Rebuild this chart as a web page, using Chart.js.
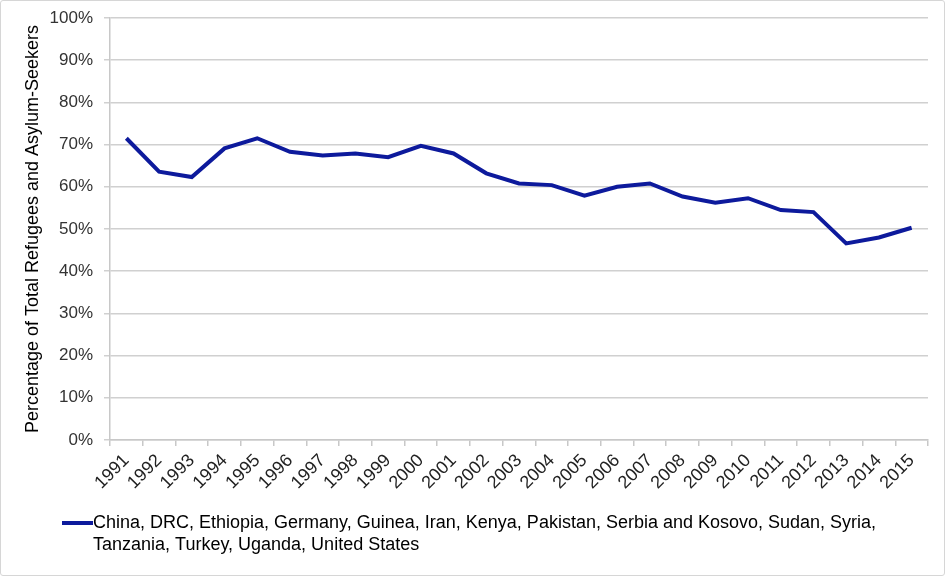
<!DOCTYPE html>
<html>
<head>
<meta charset="utf-8">
<script src="https://cdn.jsdelivr.net/npm/chart.js@4"></script>
<style>
  html, body { margin: 0; padding: 0; background: #fff; }
  #frame { width: 945px; height: 576px; box-sizing: border-box; border: 1px solid #d6d6d6; border-radius: 3px; }
  canvas { display: block; }
</style>
</head>
<body>
<div id="frame"><canvas id="chart" width="943" height="574"></canvas></div>
<script>
// ----- DATA -----
const years = ['1991','1992','1993','1994','1995','1996','1997','1998','1999','2000','2001','2002','2003',
  '2004','2005','2006','2007','2008','2009','2010','2011','2012','2013','2014','2015']
const shares = [71.5, 63.6, 62.3, 69.1, 71.5, 68.3, 67.4, 67.9, 67.0, 69.7, 67.9, 63.2, 60.8,
  60.4, 57.9, 60.0, 60.8, 57.7, 56.2, 57.3, 54.5, 54.0, 46.6, 48.0, 50.3]
const seriesLabel = ['China, DRC, Ethiopia, Germany, Guinea, Iran, Kenya, Pakistan, Serbia and Kosovo, Sudan, Syria,',
  'Tanzania, Turkey, Uganda, United States']
const yTitle = 'Percentage of Total Refugees and Asylum-Seekers'

const lineColor = '#0d1a9c'
const font = 'Liberation Sans, Arial, sans-serif'

// legend drawn by hand so the label can wrap onto two lines
const wrapLegend = {
  id: 'wrapLegend',
  afterDraw(chart) {
    const ctx = chart.ctx
    ctx.save()
    ctx.strokeStyle = lineColor
    ctx.lineWidth = 4
    ctx.beginPath()
    ctx.moveTo(61, 522)
    ctx.lineTo(92, 522)
    ctx.stroke()
    ctx.fillStyle = '#000'
    ctx.font = '18px ' + font
    ctx.textBaseline = 'middle'
    ctx.fillText(seriesLabel[0], 92, 522)
    ctx.fillText(seriesLabel[1], 92, 544)
    ctx.restore()
  }
}

new Chart(document.getElementById('chart'), {
  type: 'line',
  data: {
    labels: years,
    datasets: [{
      label: seriesLabel.join(' '),
      data: shares,
      borderColor: lineColor,
      borderWidth: 4,
      pointRadius: 0,
      tension: 0,
      fill: false,
    }],
  },
  options: {
    responsive: false,
    devicePixelRatio: 1,
    animation: false,
    layout: { padding: { left: 11, right: 16, top: 17, bottom: 60 } },
    plugins: { legend: { display: false }, tooltip: { enabled: false } },
    scales: {
      x: {
        offset: true,
        grid: { drawOnChartArea: false, offset: true, tickLength: 6, color: '#c8c8c8', lineWidth: 1.5 },
        border: { color: '#c8c8c8', width: 1.5 },
        ticks: { autoSkip: false, maxRotation: 45, minRotation: 45, padding: 4, color: '#222', font: { family: font, size: 18 } },
        afterFit: (s) => { s.height = 75 },
      },
      y: {
        min: 0,
        max: 100,
        // small lineHeight keeps the top label from pushing the plot down
        ticks: { stepSize: 10, callback: (v) => v + '%', color: '#333', padding: 11, font: { family: font, size: 17, lineHeight: 0.6 } },
        grid: { color: '#d0d0d0', lineWidth: 1.5, tickLength: 6 },
        border: { color: '#c8c8c8', width: 1.5 },
        title: { display: true, text: yTitle, color: '#000', padding: { top: 10, bottom: 0 }, font: { family: font, size: 18 } },
        afterFit: (s) => { s.width = 98 },
      },
    },
  },
  plugins: [wrapLegend],
})
</script>
</body>
</html>
